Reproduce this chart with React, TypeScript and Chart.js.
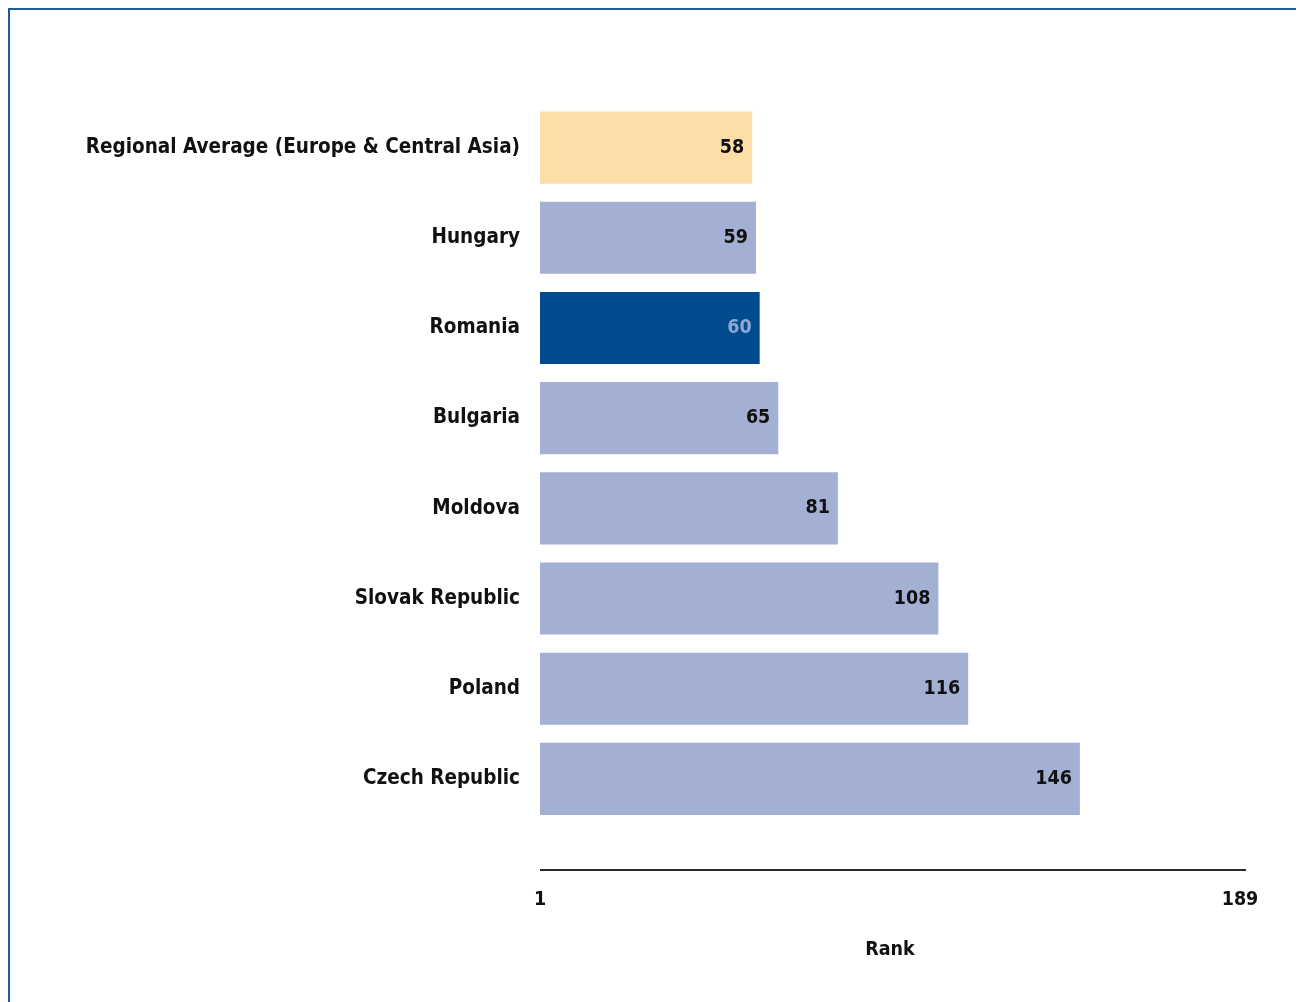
import React, { useEffect, useRef } from "react";
import { Chart, registerables } from "chart.js";

Chart.register(...registerables);

const categories = [
  "Regional Average (Europe & Central Asia)",
  "Hungary",
  "Romania",
  "Bulgaria",
  "Moldova",
  "Slovak Republic",
  "Poland",
  "Czech Republic",
];
const ranks = [58, 59, 60, 65, 81, 108, 116, 146];
const barColors = ["#fddea9", "#a4b0d3", "#004b8d", "#a4b0d3", "#a4b0d3", "#a4b0d3", "#a4b0d3", "#a4b0d3"];
const valueLabelColors = ["#111111", "#111111", "#8ea8d2", "#111111", "#111111", "#111111", "#111111", "#111111"];
const tickValues = [1, 189];
const axisTitle = "Rank";

const FONT = "'DejaVu Sans Condensed', 'DejaVu Sans', sans-serif";
const LABEL_SIZE = 20.5;

const valueLabelPlugin = {
  id: "valueLabels",
  afterDatasetsDraw(chart: any) {
    const ctx = chart.ctx;
    const meta = chart.getDatasetMeta(0);
    ctx.save();
    ctx.font = `bold 19.5px ${FONT}`;
    ctx.textAlign = "right";
    ctx.textBaseline = "middle";
    meta.data.forEach((bar: any, i: number) => {
      ctx.fillStyle = valueLabelColors[i];
      ctx.fillText(String(ranks[i]), bar.x - 8, bar.y);
    });
    ctx.restore();
  },
};

const axisLinePlugin = {
  id: "axisLine",
  afterDraw(chart: any) {
    const x = chart.scales.x;
    const ctx = chart.ctx;
    const y = x.top + 46;
    ctx.save();
    ctx.strokeStyle = "#2a2a2a";
    ctx.lineWidth = 2;
    ctx.beginPath();
    ctx.moveTo(x.left, y);
    ctx.lineTo(x.right + 6, y);
    ctx.stroke();
    ctx.restore();
  },
};

export default function App() {
  const ref = useRef<HTMLCanvasElement>(null);
  useEffect(() => {
    if (!ref.current) return;
    const chart = new Chart(ref.current, {
      type: "bar",
      data: {
        labels: categories,
        datasets: [
          {
            data: ranks,
            backgroundColor: barColors,
            borderWidth: 0,
            barPercentage: 0.8,
            categoryPercentage: 1,
          },
        ],
      },
      options: {
        indexAxis: "y",
        animation: false,
        responsive: false,
        maintainAspectRatio: false,
        layout: { padding: { top: 92.5, bottom: 40, left: 0, right: 64 } },
        plugins: {
          legend: { display: false },
          tooltip: { enabled: false },
          title: { display: false },
        },
        scales: {
          y: {
            afterFit: (s: any) => {
              s.width = 530;
            },
            grid: { display: false, drawTicks: false },
            border: { display: false },
            ticks: {
              padding: 20,
              color: "#111111",
              font: { family: FONT, size: LABEL_SIZE, weight: "bold" },
            },
          },
          x: {
            min: 1,
            max: 189,
            afterFit: (s: any) => {
              s.height = 138;
            },
            afterBuildTicks: (s: any) => {
              s.ticks = tickValues.map((v) => ({ value: v }));
            },
            grid: {
              display: true,
              color: "rgba(0,0,0,0)",
              drawOnChartArea: false,
              drawTicks: true,
              tickLength: 60,
            },
            border: { display: false },
            ticks: {
              padding: 4,
              autoSkip: false,
              maxRotation: 0,
              color: "#111111",
              font: { family: FONT, size: 19.5, weight: "bold" },
              callback: (v: any) => String(v),
            },
            title: {
              display: true,
              text: axisTitle,
              color: "#111111",
              padding: 0,
              font: { family: FONT, size: 19.5, weight: "bold" },
            },
          },
        },
      },
      plugins: [valueLabelPlugin, axisLinePlugin],
    });
    return () => chart.destroy();
  }, []);

  return (
    <div
      style={{
        width: 1296,
        height: 994,
        boxSizing: "border-box",
        borderTop: "2px solid #1f5a9e",
        borderLeft: "2px solid #1f5a9e",
        background: "#ffffff",
        position: "relative",
      }}
    >
      <canvas ref={ref} width={1294} height={992} style={{ display: "block", width: 1294, height: 992 }} />
    </div>
  );
}
